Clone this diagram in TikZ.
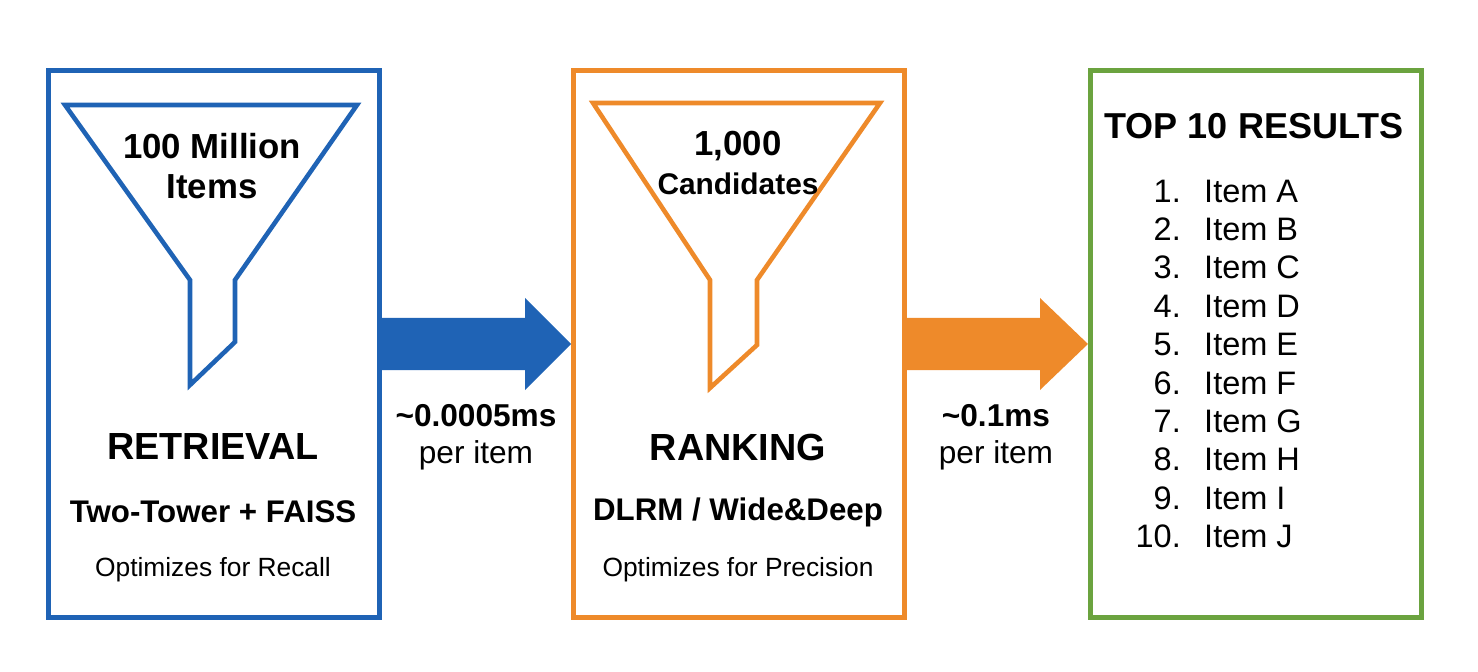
\documentclass[tikz,border=0pt]{standalone}
\usepackage{fontspec}
\setmainfont{Liberation Sans}
\definecolor{retblue}{HTML}{1F63B5}
\definecolor{rankorange}{HTML}{EE8A2A}
\definecolor{topgreen}{HTML}{6BA33F}
\begin{document}
\begin{tikzpicture}[x=0.02cm, y=-0.02cm,
		stage_style/.style={draw=#1, line width=2.8pt, minimum width=6.62cm, minimum height=10.94cm, anchor=north west},
		funnel_style/.style={draw=#1, line width=2.6pt, line join=miter},
		title_style/.style={font=\fontsize{21.5}{25}\selectfont\bfseries},
		model_style/.style={font=\fontsize{17.8}{21}\selectfont\bfseries},
		goal_style/.style={font=\fontsize{15}{18}\selectfont},
		funnel_text/.style={font=\fontsize{19.8}{23}\selectfont\bfseries, align=center},
		speed_style/.style={font=\fontsize{18}{21}\selectfont, align=center},
		item_style/.style={font=\fontsize{18.5}{21}\selectfont}]
	\useasboundingbox (0,0) rectangle (1478,672);
	
	\node[stage_style=retblue] (ret) at (46,68) {};
	\node[stage_style=rankorange] (rank) at (571,68) {};
	\node[stage_style=topgreen] (top) at (1088,68) {};
	
	% funnels
	\draw[funnel_style=retblue] (65,105) -- (357,105) -- (235,280) -- (235,342) -- (190,385) -- (190,280) -- cycle;
	\draw[funnel_style=rankorange] (593,103) -- (880,103) -- (757,280) -- (757,345) -- (710,388) -- (710,280) -- cycle;
	
	% block arrows
	\fill[retblue] (ret.east |- 0,318) -- (525,318) -- (525,298) -- (rank.west |- 0,344) -- (525,390) -- (525,370) -- (ret.east |- 0,370) -- cycle;
	\fill[rankorange] (rank.east |- 0,318) -- (1040,318) -- (1040,298) -- (top.west |- 0,344) -- (1040,390) -- (1040,370) -- (rank.east |- 0,370) -- cycle;
	
	\node[funnel_text] (n_items) at (212,166) {100 Million\\Items};
	\node[title_style] (ret_title) at (213,447) {RETRIEVAL};
	\node[model_style] (ret_model) at (213,512) {Two-Tower + FAISS};
	\node[goal_style] (ret_goal) at (213,570) {Optimizes for Recall};
	
	\node[funnel_text] (n_cand) at (738,146) {1,000};
	\node[font=\fontsize{17}{20}\selectfont\bfseries] (n_cand2) at (738,184) {Candidates};
	\node[title_style] (rank_title) at (738,447) {RANKING};
	\node[model_style] (rank_model) at (738,512) {DLRM / Wide\&Deep};
	\node[goal_style] (rank_goal) at (738,570) {Optimizes for Precision};
	
	\node[speed_style] (speed1) at (476,437) {\textbf{\char`\~0.0005ms}\\per item};
	\node[speed_style] (speed2) at (996,437) {\textbf{\char`\~0.1ms}\\per item};
	
	\node[font=\fontsize{20.5}{24}\selectfont\bfseries] (top_title) at (1254,126) {TOP 10 RESULTS};
	\foreach \n/\l [count=\i from 0] in {1/A,2/B,3/C,4/D,5/E,6/F,7/G,8/H,9/I,10/J}{
		\node[item_style, anchor=east] (num\n) at (1187,191+38.4*\i) {\n.};
		\node[item_style, anchor=west] (item\n) at (1198,191+38.4*\i) {Item \l};
	}
\end{tikzpicture}
\end{document}
